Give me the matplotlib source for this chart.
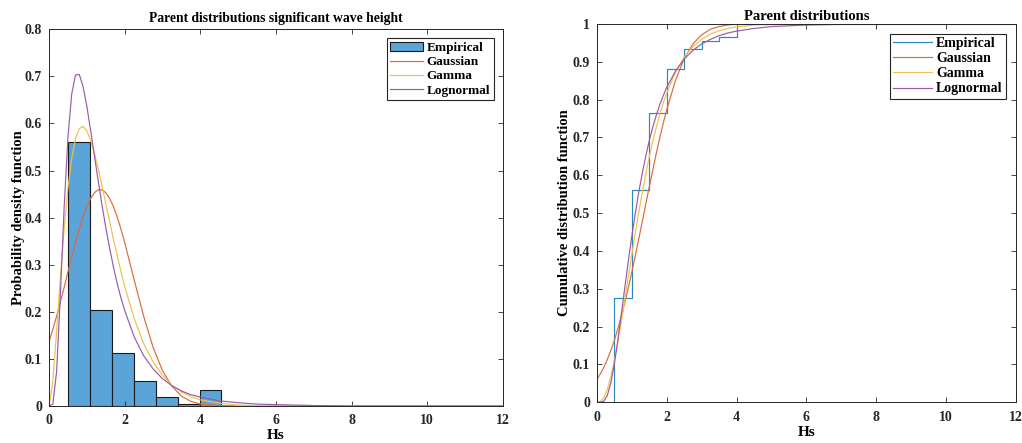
import matplotlib
matplotlib.use("Agg")
import matplotlib.pyplot as plt
from matplotlib.ticker import FuncFormatter

# histogram of Hs (bin edges and bar heights)
bin_edges = [0.5, 1.08, 1.66, 2.24, 2.82, 3.40, 3.98, 4.56]
bin_heights = [0.56, 0.204, 0.113, 0.053, 0.019, 0.005, 0.033]

# empirical CDF steps (right panel)
ecdf_x = [0.5, 0.5, 1.0, 1.5, 2.0, 2.5, 3.0, 3.5, 4.0, 12.0]
ecdf_y = [0.0, 0.275, 0.56, 0.765, 0.88, 0.935, 0.955, 0.965, 1.0, 1.0]

# fitted curves sampled along Hs
hs = [0, 0.1, 0.2, 0.3, 0.4, 0.5, 0.6, 0.7, 0.8, 0.9, 1.0, 1.1, 1.2, 1.3, 1.4, 1.5, 1.6, 1.7, 1.8, 1.9,
      2.0, 2.25, 2.5, 2.75, 3.0, 3.25, 3.5, 3.75, 4.0, 4.5, 5.0, 5.5, 6.0, 7.0, 8.0, 10.0, 12.0]

pdf_gauss = [0.137, 0.163, 0.191, 0.221, 0.252, 0.285, 0.317, 0.347, 0.376, 0.402, 0.424, 0.441, 0.453,
             0.459, 0.459, 0.453, 0.441, 0.424, 0.402, 0.376, 0.347, 0.268, 0.191, 0.125, 0.075, 0.042,
             0.021, 0.010, 0.004, 0.001, 0.000, 0.000, 0.000, 0.000, 0.000, 0.000, 0.000]
pdf_gamma = [0.000, 0.053, 0.158, 0.273, 0.377, 0.463, 0.526, 0.568, 0.589, 0.594, 0.584, 0.564, 0.537,
             0.504, 0.468, 0.430, 0.393, 0.355, 0.320, 0.286, 0.254, 0.186, 0.133, 0.094, 0.065, 0.044,
             0.030, 0.020, 0.013, 0.006, 0.002, 0.001, 0.000, 0.000, 0.000, 0.000, 0.000]
pdf_logn = [0.000, 0.004, 0.073, 0.237, 0.423, 0.571, 0.663, 0.703, 0.704, 0.678, 0.636, 0.585, 0.531,
            0.478, 0.427, 0.379, 0.336, 0.296, 0.261, 0.230, 0.203, 0.147, 0.107, 0.079, 0.058, 0.043,
            0.032, 0.024, 0.019, 0.011, 0.007, 0.004, 0.003, 0.001, 0.000, 0.000, 0.000]

cdf_gauss = [0.060, 0.075, 0.092, 0.113, 0.137, 0.163, 0.194, 0.227, 0.263, 0.302, 0.343, 0.387, 0.431,
             0.477, 0.523, 0.569, 0.613, 0.657, 0.698, 0.737, 0.773, 0.850, 0.908, 0.947, 0.971, 0.986,
             0.993, 0.997, 0.999, 1.000, 1.000, 1.000, 1.000, 1.000, 1.000, 1.000, 1.000]
cdf_gamma = [0.000, 0.002, 0.012, 0.034, 0.067, 0.109, 0.158, 0.213, 0.271, 0.331, 0.390, 0.447, 0.502,
             0.554, 0.603, 0.648, 0.689, 0.726, 0.760, 0.790, 0.817, 0.872, 0.912, 0.940, 0.959, 0.973,
             0.982, 0.988, 0.992, 0.997, 0.999, 0.999, 1.000, 1.000, 1.000, 1.000, 1.000]
cdf_logn = [0.000, 0.000, 0.003, 0.018, 0.051, 0.101, 0.163, 0.232, 0.303, 0.372, 0.438, 0.499, 0.555,
            0.605, 0.650, 0.691, 0.726, 0.758, 0.786, 0.810, 0.832, 0.875, 0.907, 0.930, 0.947, 0.959,
            0.969, 0.976, 0.981, 0.988, 0.993, 0.995, 0.997, 0.999, 0.999, 1.000, 1.000]

labels = ["Empirical", "Gaussian", "Gamma", "Lognormal"]

c_bar = "#5ba4d9"
c_emp = "#2a8abf"
c_gau = "#db6a3c"
c_gam = "#efc04a"
c_log = "#9a5aa8"

plt.rcParams["font.family"] = ["Liberation Serif", "DejaVu Serif"]
plt.rcParams["font.weight"] = "bold"
plt.rcParams["axes.labelweight"] = "bold"
plt.rcParams["axes.titleweight"] = "bold"

fig = plt.figure(figsize=(10.22, 4.43), dpi=100)
ax1 = fig.add_axes([0.048, 0.0835, 0.444, 0.8505])
ax2 = fig.add_axes([0.584, 0.092, 0.41, 0.854])

widths = [bin_edges[i + 1] - bin_edges[i] for i in range(len(bin_heights))]
b = ax1.bar(bin_edges[:-1], bin_heights, width=widths, align="edge", color=c_bar,
            edgecolor="#1a1a1a", linewidth=0.8)
l1, = ax1.plot(hs, pdf_gauss, color=c_gau, lw=0.85)
l2, = ax1.plot(hs, pdf_gamma, color=c_gam, lw=0.85)
l3, = ax1.plot(hs, pdf_logn, color=c_log, lw=0.85)
ax1.set_xlim(0, 12)
ax1.set_ylim(0, 0.8)
ax1.set_yticks([0, 0.1, 0.2, 0.3, 0.4, 0.5, 0.6, 0.7, 0.8])
ax1.set_title("Parent distributions significant wave height", fontsize=9.8, pad=5)
ax1.set_ylabel("Probability density function", fontsize=10.5, labelpad=0)
ax1.set_xlabel("Hs", fontsize=11, labelpad=1)
handles1 = [b, l1, l2, l3]

e0, = ax2.step(ecdf_x, ecdf_y, where="post", color=c_emp, lw=0.85)
m1, = ax2.plot(hs, cdf_gauss, color=c_gau, lw=0.85)
m2, = ax2.plot(hs, cdf_gamma, color=c_gam, lw=0.85)
m3, = ax2.plot(hs, cdf_logn, color=c_log, lw=0.85)
ax2.set_xlim(0, 12)
ax2.set_ylim(0, 1)
ax2.set_yticks([0, 0.1, 0.2, 0.3, 0.4, 0.5, 0.6, 0.7, 0.8, 0.9, 1.0])
ax2.set_title("Parent distributions", fontsize=10.5, pad=3)
ax2.set_ylabel("Cumulative distribution function", fontsize=10.5, labelpad=1)
ax2.set_xlabel("Hs", fontsize=11, labelpad=2)
handles2 = [e0, m1, m2, m3]

for ax, hh, fs, hl in ((ax1, handles1, 9.5, 2.5), (ax2, handles2, 10, 2.8)):
    ax.set_xticks([0, 2, 4, 6, 8, 10, 12])
    ax.yaxis.set_major_formatter(FuncFormatter(lambda v, p: "%g" % round(v, 2)))
    ax.tick_params(direction="in", top=True, right=True, length=3.5, width=0.6,
                   colors="#262626", labelsize=10)
    ax.tick_params(axis="x", pad=6)
    ax.tick_params(axis="y", pad=5)
    for s in ax.spines.values():
        s.set_color("#262626")
        s.set_linewidth(0.7)
    leg = ax.legend(hh, labels, loc="upper right", fontsize=fs, fancybox=False, framealpha=1,
                    edgecolor="#262626", borderpad=0.25, labelspacing=0.15,
                    handlelength=hl, handletextpad=0.3, borderaxespad=0.7)
    leg.get_frame().set_linewidth(0.8)

fig.savefig("out.png", dpi=100)
